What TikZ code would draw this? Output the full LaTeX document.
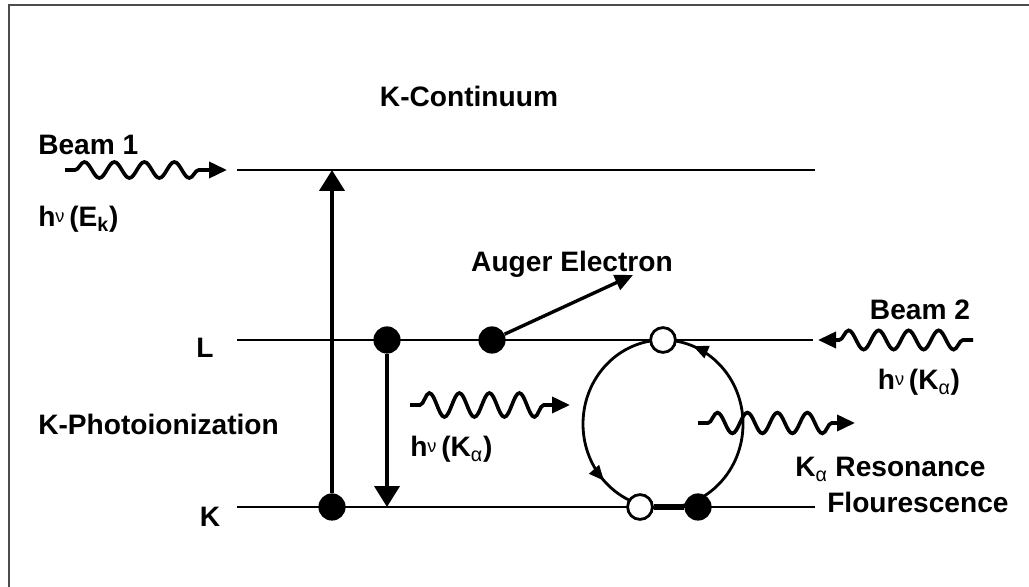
\documentclass[tikz,border=0pt]{standalone}
\usepackage{fontspec}
\setmainfont{Liberation Sans}
\usetikzlibrary{arrows.meta,decorations.pathmorphing,decorations.markings}
\tikzstyle{etichetta} = [font=\bfseries\fontsize{20}{24}\selectfont, inner sep=0pt]
\tikzstyle{livello} = [line width=2pt]
\tikzstyle{cerchiopieno} = [circle, fill=black, minimum size=0.68cm, inner sep=0pt]
\tikzstyle{cerchiovuoto} = [circle, draw=black, line width=2pt, fill=white, minimum size=0.62cm, inner sep=0pt]
\tikzstyle{freccia} = [line width=2.8pt, -{Triangle[length=0.52cm,width=0.62cm]}]
\tikzstyle{onda} = [line width=2.6pt, decorate, decoration={snake, amplitude=0.2cm, segment length=0.75cm, pre length=0.25cm, post length=0.45cm}, -{Triangle[length=0.45cm,width=0.4cm]}]
\newcommand{\hnu}{h\raisebox{.3ex}{\mdseries\fontsize{13}{13}\selectfont ν}\,}

\begin{document}
\begin{tikzpicture}
\useasboundingbox (0,0) rectangle (25.725,14.675);
\draw[gray!60!black, line width=1pt] (0.225,0) -- (0.225,14.55) -- (25.725,14.55);

% livelli
\coordinate (cSx) at (5.925,10.425);
\coordinate (cDx) at (20.375,10.425);
\coordinate (lSx) at (5.925,6.175);
\coordinate (lDx) at (20.325,6.175);
\coordinate (kSx) at (5.925,2.0);
\coordinate (kDx) at (20.375,2.0);
\draw[livello] (cSx) -- (cDx);
\draw[livello] (lSx) -- (lDx);
\draw[livello] (kSx) -- (kDx);

\node[etichetta, anchor=base] at (11.725,12.0) {K-Continuum};
\node[etichetta, anchor=base] at (5.125,5.725) {L};
\node[etichetta, anchor=base] at (5.25,1.5) {K};
\node[etichetta, anchor=base west] at (0.95,3.8) {K-Photoionization};

% fascio 1
\coordinate (b1Inizio) at (1.625,10.425);
\coordinate (b1Fine) at (5.675,10.425);
\draw[onda] (b1Inizio) -- (b1Fine);
\node[etichetta, anchor=base west] at (0.95,10.8) {Beam 1};
\node[etichetta, anchor=base west] at (0.95,9.0) {\hnu(E\textsubscript{k})};

% fotoionizzazione e caduta
\node (pienoK1) [cerchiopieno] at (8.3,2.0) {};
\coordinate (suC) at (8.3,10.425);
\draw[freccia] (pienoK1) -- (suC);
\node (pienoL1) [cerchiopieno] at (9.675,6.175) {};
\coordinate (giuK) at (9.675,2.0);
\draw[freccia] (pienoL1) -- (giuK);

% Auger
\node (pienoL2) [cerchiopieno] at (12.3,6.175) {};
\coordinate (auger) at (15.825,7.8);
\draw[line width=2.4pt, -{Triangle[length=0.45cm,width=0.4cm]}] (pienoL2) -- (auger);
\node[etichetta, anchor=base] at (14.3,7.875) {Auger Electron};

% fotone intermedio
\coordinate (mInizio) at (10.25,4.55);
\coordinate (mFine) at (14.25,4.55);
\draw[onda, decoration={amplitude=0.3cm}] (mInizio) -- (mFine);
\node[etichetta, anchor=base west] at (10.25,3.25) {\hnu(K\textsubscript{\mdseries α})};

% ciclo di risonanza
\coordinate (centro) at (16.575,4.075);
\draw[livello, postaction={decorate}, decoration={markings,
  mark=at position 0.19 with {\arrow{Triangle[length=0.38cm,width=0.32cm]}},
  mark=at position 0.62 with {\arrow{Triangle[length=0.38cm,width=0.32cm]}}}]
  (centro) ellipse [x radius=2, y radius=2.1];
\node (vuotoL) [cerchiovuoto] at (16.575,6.175) {};
\node (vuotoK) [cerchiovuoto] at (16.0,2.0) {};
\node (pienoK2) [cerchiopieno] at (17.45,2.0) {};
\draw[line width=4pt] (vuotoK) -- (pienoK2);

% fluorescenza
\coordinate (rInizio) at (17.45,4.1);
\coordinate (rFine) at (21.375,4.1);
\draw[onda, decoration={amplitude=0.26cm}] (rInizio) -- (rFine);
\node[etichetta, anchor=base west] at (19.875,2.75) {K\textsubscript{\mdseries α} Resonance};
\node[etichetta, anchor=base west] at (20.675,1.85) {Flourescence};

% fascio 2
\coordinate (b2Inizio) at (24.325,6.175);
\coordinate (b2Fine) at (20.45,6.175);
\draw[onda, decoration={amplitude=0.24cm}] (b2Inizio) -- (b2Fine);
\node[etichetta, anchor=base] at (23.0,6.675) {Beam 2};
\node[etichetta, anchor=base] at (22.975,4.925) {\hnu(K\textsubscript{\mdseries α})};

\end{tikzpicture}
\end{document}
